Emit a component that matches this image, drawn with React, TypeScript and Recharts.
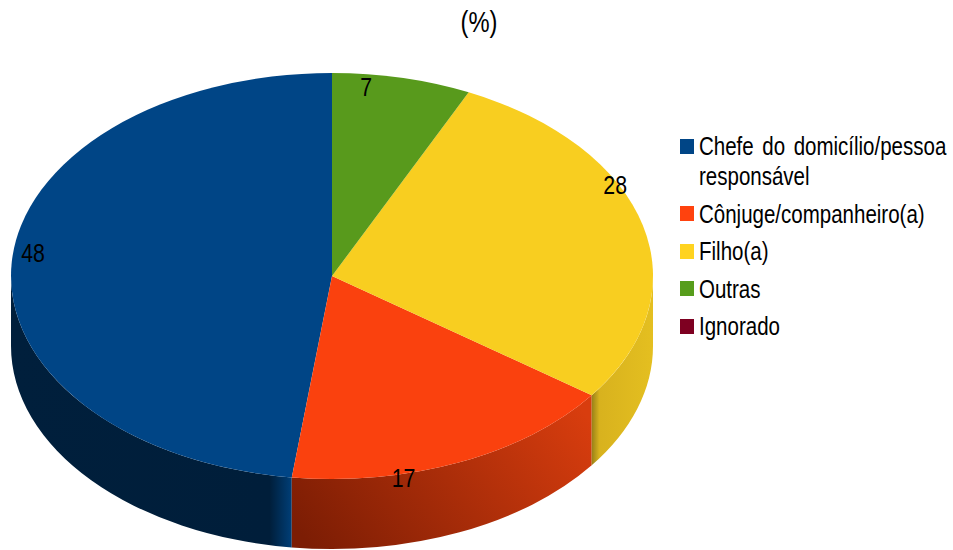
import { Legend, Pie, PieChart, Cell } from 'recharts';

const CATEGORIES = ['Chefe do domicílio/pessoa responsável', 'Cônjuge/companheiro(a)', 'Filho(a)', 'Outras', 'Ignorado'];
const VALUES = [48, 17, 28, 7, 0];

const LEGEND_COLORS = ['#004586', '#ff420e', '#ffd320', '#579d1c', '#7e0021'];
const TOP_COLORS = ['#004586', '#fa410e', '#f8ce20', '#589a1c', '#7e0021'];
const WALL_FILLS = ['url(#wallBlue)', 'url(#wallOrange)', 'url(#wallYellow)', '#3d6e14', '#58001a'];

// squash of the tilted disc, and how far the wall drops below it
const TILT = 203 / 321;
const DEPTH = 70;
// no narrow face installed, so Liberation Sans gets squeezed to the same width
const FONT = '"Liberation Sans", sans-serif';
const NARROW = 0.82;

// LibreOffice does not put its labels on the radius, so nudge each one
const LABEL_NUDGE = [
  [-1, -11],
  [-47, 28],
  [-6, -44],
  [-31, -5],
  [0, 0],
];

const tableData = CATEGORIES.map((name, i) => ({ name, value: VALUES[i] }));

const point = (cx: number, cy: number, r: number, deg: number, drop = 0) => {
  const rad = (deg * Math.PI) / 180;
  return `${cx + r * Math.cos(rad)} ${cy - r * TILT * Math.sin(rad) + drop}`;
};

function TopSlice(props: any) {
  const { cx, cy, outerRadius: r, startAngle, endAngle, fill } = props;
  if (endAngle - startAngle <= 0) return null;
  const large = endAngle - startAngle > 180 ? 1 : 0;
  const d = `M ${cx} ${cy} L ${point(cx, cy, r, startAngle)} A ${r} ${r * TILT} 0 ${large} 0 ${point(cx, cy, r, endAngle)} Z`;
  return <path d={d} fill={fill} stroke="none" />;
}

function WallSlice(props: any) {
  const { cx, cy, outerRadius: r, startAngle, endAngle, fill } = props;
  // only the part of the rim facing the viewer is visible
  const a0 = Math.max(startAngle, 180);
  const a1 = Math.min(endAngle, 360);
  if (a1 <= a0) return null;
  const rx = r;
  const ry = r * TILT;
  const d =
    `M ${point(cx, cy, r, a0)} A ${rx} ${ry} 0 0 0 ${point(cx, cy, r, a1)} ` +
    `L ${point(cx, cy, r, a1, DEPTH)} A ${rx} ${ry} 0 0 1 ${point(cx, cy, r, a0, DEPTH)} Z`;
  return <path d={d} fill={fill} stroke="none" />;
}

function NarrowText({ x, y, size, children }: any) {
  return (
    <text
      transform={`translate(${x} ${y}) scale(${NARROW} 1)`}
      textAnchor="middle"
      dominantBaseline="central"
      fontFamily={FONT}
      fontSize={size}
      fill="#000"
    >
      {children}
    </text>
  );
}

function renderLabel(props: any) {
  const { cx, cy, outerRadius: r, midAngle, value, index } = props;
  if (!value) return null;
  const rad = (midAngle * Math.PI) / 180;
  const x = cx + r * 0.93 * Math.cos(rad) + LABEL_NUDGE[index][0];
  const y = cy - r * TILT * 0.93 * Math.sin(rad) + LABEL_NUDGE[index][1];
  return (
    <NarrowText x={x} y={y} size={26}>
      {value}
    </NarrowText>
  );
}

function LegendList() {
  return (
    <ul style={{ listStyle: 'none', margin: 0, padding: 0, fontFamily: FONT, fontSize: 25, lineHeight: '30px', color: '#000' }}>
      {CATEGORIES.map((name, i) => (
        <li key={name} style={{ display: 'flex', marginBottom: 7.5 }}>
          <span style={{ flex: 'none', width: 14, height: 15, marginTop: 7.5, marginRight: 5, background: LEGEND_COLORS[i] }} />
          <span style={{ flex: 'none', width: 308, wordSpacing: 3.5, transform: `scaleX(${NARROW})`, transformOrigin: 'left top' }}>{name}</span>
        </li>
      ))}
    </ul>
  );
}

export default function App() {
  return (
    <div style={{ position: 'absolute', left: 0, top: 0, width: 953, height: 550, background: '#fff', overflow: 'hidden' }}>
      <PieChart width={953} height={550} margin={{ top: 0, right: 0, bottom: 0, left: 0 }}>
        <defs>
          <linearGradient id="wallBlue" gradientUnits="userSpaceOnUse" x1="11" y1="0" x2="292" y2="0">
            <stop offset="0" stopColor="#001f3c" />
            <stop offset="0.92" stopColor="#001e3a" />
            <stop offset="1" stopColor="#003f78" />
          </linearGradient>
          <linearGradient id="wallOrange" gradientUnits="userSpaceOnUse" x1="320" y1="560" x2="560" y2="380">
            <stop offset="0" stopColor="#7c1d04" />
            <stop offset="1" stopColor="#d83d0e" />
          </linearGradient>
          <linearGradient id="wallYellow" gradientUnits="userSpaceOnUse" x1="592" y1="0" x2="653" y2="0">
            <stop offset="0" stopColor="#9a8218" />
            <stop offset="0.12" stopColor="#d8b21e" />
            <stop offset="1" stopColor="#e4bf20" />
          </linearGradient>
        </defs>
        <NarrowText x={479} y={22} size={29}>
          (%)
        </NarrowText>
        <Pie
          data={tableData}
          dataKey="value"
          nameKey="name"
          cx={332}
          cy={276}
          innerRadius={0}
          outerRadius={321}
          startAngle={90}
          endAngle={450}
          stroke="none"
          legendType="none"
          isAnimationActive={false}
          shape={WallSlice}
        >
          {tableData.map((row, i) => (
            <Cell key={row.name} fill={WALL_FILLS[i]} />
          ))}
        </Pie>
        <Pie
          data={tableData}
          dataKey="value"
          nameKey="name"
          cx={332}
          cy={276}
          innerRadius={0}
          outerRadius={321}
          startAngle={90}
          endAngle={450}
          stroke="none"
          isAnimationActive={false}
          shape={TopSlice}
          label={renderLabel}
          labelLine={false}
        >
          {tableData.map((row, i) => (
            <Cell key={row.name} fill={TOP_COLORS[i]} />
          ))}
        </Pie>
        <Legend
          layout="vertical"
          align="right"
          verticalAlign="top"
          content={() => <LegendList />}
          wrapperStyle={{ left: 680, top: 131, width: 272 }}
        />
      </PieChart>
    </div>
  );
}
